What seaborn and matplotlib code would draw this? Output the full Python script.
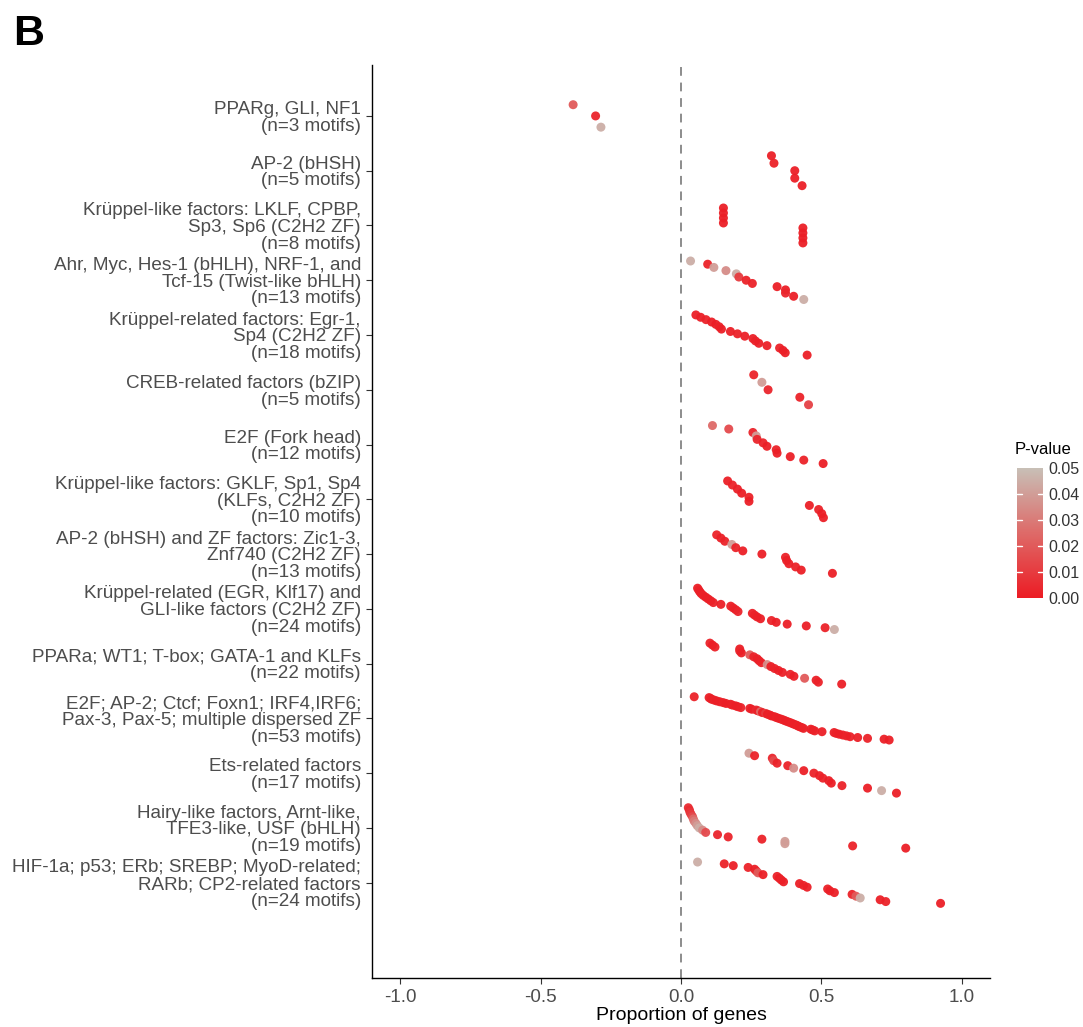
import numpy as np
import pandas as pd
import matplotlib
matplotlib.use("Agg")
import matplotlib.pyplot as plt
import seaborn as sns
from matplotlib.colors import LinearSegmentedColormap, Normalize
from matplotlib.cm import ScalarMappable

sns.set_style("white")
plt.rcParams['font.family'] = ['Liberation Sans', 'DejaVu Sans']

# ---------------- data ----------------
group_labels = [
    "PPARg, GLI, NF1\n(n=3 motifs)",
    "AP-2 (bHSH)\n(n=5 motifs)",
    "Krüppel-like factors: LKLF, CPBP,\nSp3, Sp6 (C2H2 ZF)\n(n=8 motifs)",
    "Ahr, Myc, Hes-1 (bHLH), NRF-1, and\nTcf-15 (Twist-like bHLH)\n(n=13 motifs)",
    "Krüppel-related factors: Egr-1,\nSp4 (C2H2 ZF)\n(n=18 motifs)",
    "CREB-related factors (bZIP)\n(n=5 motifs)",
    "E2F (Fork head)\n(n=12 motifs)",
    "Krüppel-like factors: GKLF, Sp1, Sp4\n(KLFs, C2H2 ZF)\n(n=10 motifs)",
    "AP-2 (bHSH) and ZF factors: Zic1-3,\nZnf740 (C2H2 ZF)\n(n=13 motifs)",
    "Krüppel-related (EGR, Klf17) and\nGLI-like factors (C2H2 ZF)\n(n=24 motifs)",
    "PPARa; WT1; T-box; GATA-1 and KLFs\n(n=22 motifs)",
    "E2F; AP-2; Ctcf; Foxn1; IRF4,IRF6;\nPax-3, Pax-5; multiple dispersed ZF\n(n=53 motifs)",
    "Ets-related factors\n(n=17 motifs)",
    "Hairy-like factors, Arnt-like,\nTFE3-like, USF (bHLH)\n(n=19 motifs)",
    "HIF-1a; p53; ERb; SREBP; MyoD-related;\nRARb; CP2-related factors\n(n=24 motifs)",
]

prop_g01 = [-0.384, -0.304, -0.285]
pval_g01 = [0.020, 0.003, 0.045]

prop_g02 = [0.322, 0.331, 0.405, 0.405, 0.431]
pval_g02 = [0.001, 0.002, 0.001, 0.001, 0.001]

prop_g03 = [0.151, 0.151, 0.151, 0.151, 0.434, 0.434, 0.434, 0.434]
pval_g03 = [0.001, 0.001, 0.001, 0.001, 0.001, 0.001, 0.001, 0.001]

prop_g04 = [0.034, 0.095, 0.117, 0.160, 0.197, 0.206, 0.232, 0.254, 0.342, 0.372, 0.372, 0.401, 0.437]
pval_g04 = [0.045, 0.002, 0.040, 0.035, 0.045, 0.010, 0.002, 0.002, 0.001, 0.001, 0.003, 0.001, 0.045]

prop_g05 = [0.053, 0.070, 0.089, 0.109, 0.124, 0.136, 0.144, 0.176, 0.201, 0.227, 0.256, 0.265,
            0.277, 0.306, 0.351, 0.363, 0.371, 0.449]
pval_g05 = [0.001, 0.001, 0.002, 0.001, 0.001, 0.002, 0.001, 0.001, 0.002, 0.001, 0.001, 0.002,
            0.001, 0.001, 0.002, 0.001, 0.001, 0.001]

prop_g06 = [0.259, 0.288, 0.310, 0.423, 0.454]
pval_g06 = [0.002, 0.040, 0.003, 0.002, 0.012]

prop_g07 = [0.112, 0.170, 0.256, 0.268, 0.271, 0.292, 0.306, 0.339, 0.342, 0.389, 0.437, 0.506]
pval_g07 = [0.025, 0.015, 0.003, 0.040, 0.003, 0.002, 0.001, 0.002, 0.001, 0.001, 0.002, 0.001]

prop_g08 = [0.166, 0.183, 0.201, 0.216, 0.242, 0.242, 0.457, 0.490, 0.501, 0.507]
pval_g08 = [0.001, 0.002, 0.001, 0.001, 0.002, 0.001, 0.001, 0.002, 0.001, 0.001]

prop_g09 = [0.127, 0.142, 0.156, 0.181, 0.195, 0.220, 0.288, 0.372, 0.376, 0.384, 0.408, 0.428, 0.539]
pval_g09 = [0.002, 0.001, 0.002, 0.040, 0.002, 0.001, 0.001, 0.002, 0.001, 0.001, 0.002, 0.001, 0.001]

prop_g10 = [0.059, 0.063, 0.067, 0.072, 0.079, 0.088, 0.097, 0.106, 0.115, 0.142, 0.177, 0.186,
            0.195, 0.203, 0.254, 0.262, 0.271, 0.283, 0.322, 0.339, 0.378, 0.446, 0.513, 0.546]
pval_g10 = [0.001, 0.002, 0.001, 0.001, 0.002, 0.001, 0.001, 0.001, 0.002, 0.001, 0.001, 0.002,
            0.001, 0.003, 0.001, 0.002, 0.001, 0.001, 0.002, 0.001, 0.001, 0.001, 0.002, 0.045]

prop_g11 = [0.103, 0.112, 0.121, 0.209, 0.209, 0.215, 0.245, 0.259, 0.271, 0.278, 0.286, 0.307,
            0.320, 0.333, 0.347, 0.361, 0.389, 0.402, 0.440, 0.481, 0.489, 0.572]
pval_g11 = [0.002, 0.001, 0.002, 0.001, 0.003, 0.001, 0.020, 0.002, 0.001, 0.001, 0.002, 0.035,
            0.001, 0.002, 0.001, 0.001, 0.002, 0.001, 0.020, 0.001, 0.002, 0.001]

prop_g12 = [0.047, 0.100, 0.105, 0.109, 0.118, 0.127, 0.138, 0.150, 0.160, 0.176, 0.183, 0.195,
            0.203, 0.213, 0.245, 0.252, 0.268, 0.275, 0.283, 0.290, 0.301, 0.308, 0.316, 0.322,
            0.333, 0.340, 0.348, 0.357, 0.365, 0.372, 0.380, 0.388, 0.395, 0.402, 0.410, 0.416,
            0.422, 0.430, 0.436, 0.462, 0.469, 0.476, 0.502, 0.545, 0.552, 0.563, 0.576, 0.589,
            0.602, 0.629, 0.664, 0.723, 0.741]
pval_g12 = [0.002, 0.001, 0.003, 0.001, 0.002, 0.001, 0.001, 0.002, 0.001, 0.001, 0.002, 0.001,
            0.001, 0.002, 0.001, 0.001, 0.004, 0.002, 0.025, 0.001, 0.010, 0.001, 0.002, 0.001,
            0.001, 0.002, 0.001, 0.001, 0.002, 0.001, 0.001, 0.001, 0.002, 0.001, 0.001, 0.002,
            0.001, 0.001, 0.002, 0.001, 0.001, 0.002, 0.001, 0.001, 0.002, 0.001, 0.001, 0.002,
            0.001, 0.001, 0.002, 0.001, 0.001]

prop_g13 = [0.242, 0.262, 0.325, 0.330, 0.342, 0.380, 0.401, 0.437, 0.473, 0.493, 0.505, 0.526,
            0.535, 0.573, 0.664, 0.714, 0.767]
pval_g13 = [0.040, 0.002, 0.003, 0.015, 0.002, 0.002, 0.035, 0.001, 0.002, 0.001, 0.002, 0.001,
            0.001, 0.002, 0.001, 0.045, 0.001]

prop_g14 = [0.026, 0.030, 0.032, 0.036, 0.041, 0.044, 0.047, 0.053, 0.058, 0.065, 0.077, 0.088,
            0.130, 0.168, 0.288, 0.370, 0.370, 0.611, 0.800]
pval_g14 = [0.005, 0.005, 0.008, 0.010, 0.015, 0.025, 0.030, 0.035, 0.040, 0.045, 0.035, 0.015,
            0.003, 0.003, 0.002, 0.040, 0.040, 0.002, 0.001]

prop_g15 = [0.059, 0.154, 0.186, 0.239, 0.262, 0.268, 0.274, 0.292, 0.342, 0.350, 0.357, 0.365,
            0.422, 0.436, 0.449, 0.522, 0.530, 0.546, 0.609, 0.623, 0.638, 0.709, 0.729, 0.924]
pval_g15 = [0.045, 0.002, 0.001, 0.002, 0.001, 0.003, 0.020, 0.001, 0.002, 0.001, 0.002, 0.001,
            0.001, 0.002, 0.001, 0.002, 0.001, 0.001, 0.002, 0.020, 0.045, 0.001, 0.002, 0.001]

props = [prop_g01, prop_g02, prop_g03, prop_g04, prop_g05, prop_g06, prop_g07, prop_g08,
         prop_g09, prop_g10, prop_g11, prop_g12, prop_g13, prop_g14, prop_g15]
pvals = [pval_g01, pval_g02, pval_g03, pval_g04, pval_g05, pval_g06, pval_g07, pval_g08,
         pval_g09, pval_g10, pval_g11, pval_g12, pval_g13, pval_g14, pval_g15]

# build long table; points within a group are dodged vertically by rank of x
band = 0.82
rows = []
for gi, (xs, ps) in enumerate(zip(props, pvals), start=1):
    order = np.argsort(xs, kind="stable")
    n = len(xs)
    for r, idx in enumerate(order):
        y = gi + ((r + 1) / (n + 1) - 0.5) * band
        rows.append({"group": gi, "prop": xs[idx], "pval": ps[idx], "ypos": y})
df = pd.DataFrame(rows)

# ---------------- figure ----------------
W, H = 1083, 1027
fig = plt.figure(figsize=(W / 100, H / 100), dpi=100)
ax = fig.add_axes([372 / W, 1 - 978 / H, (990 - 372) / W, (978 - 65) / H])
cax = fig.add_axes([1017 / W, 1 - 598 / H, 26 / W, 130 / H])

cmap = LinearSegmentedColormap.from_list("pv", ["#EC1C24", "#DE6A68", "#C8BFB6"])
norm = Normalize(0, 0.05)

ax.axvline(0, color="#8C8C8C", lw=1.4, ls=(0, (4.5, 3.5)), zorder=0)

sns.scatterplot(data=df, x="prop", y="ypos", hue="pval", palette=cmap, hue_norm=norm,
                s=42, edgecolor="none", alpha=0.95, legend=False, ax=ax, zorder=3)

ax.set_xlim(-1.1, 1.1)
ax.set_ylim(16.74, 0.07)
ax.set_xticks([-1.0, -0.5, 0.0, 0.5, 1.0])
ax.set_xticklabels(["-1.0", "-0.5", "0.0", "0.5", "1.0"])
ax.set_yticks(range(1, len(group_labels) + 1))
ax.set_yticklabels(group_labels, linespacing=0.98)
ax.tick_params(axis="both", which="both", length=4, width=0.8, color="#333333",
               labelcolor="#4D4D4D", labelsize=13.6, direction="out", left=True, bottom=True)
ax.tick_params(axis="y", pad=4)
ax.tick_params(axis="x", pad=4)

for side in ["top", "right"]:
    ax.spines[side].set_visible(False)
for side in ["left", "bottom"]:
    ax.spines[side].set_color("black")
    ax.spines[side].set_linewidth(1.0)

ax.set_xlabel("Proportion of genes", fontsize=14, color="black", labelpad=1)
ax.set_ylabel("")
ax.grid(False)

# colorbar
sm = ScalarMappable(norm=norm, cmap=cmap)
cb = fig.colorbar(sm, cax=cax)
cb.set_ticks([0.0, 0.01, 0.02, 0.03, 0.04, 0.05])
cb.set_ticklabels(["0.00", "0.01", "0.02", "0.03", "0.04", "0.05"])
cb.outline.set_visible(False)
cax.tick_params(length=0, labelsize=11.5, labelcolor="#333333", pad=4)
for v in [0.01, 0.02, 0.03, 0.04]:
    cax.plot([0, 0.2], [v, v], color="white", lw=1, transform=cax.get_yaxis_transform())
    cax.plot([0.8, 1.0], [v, v], color="white", lw=1, transform=cax.get_yaxis_transform())
fig.text(1015 / W, 1 - 449 / H, "P-value", fontsize=12, color="black", ha="left", va="center")

fig.text(13 / W, 1 - 34 / H, "B", fontsize=31, fontweight="bold", color="black",
         ha="left", va="center")

fig.savefig("out.png", dpi=100)
